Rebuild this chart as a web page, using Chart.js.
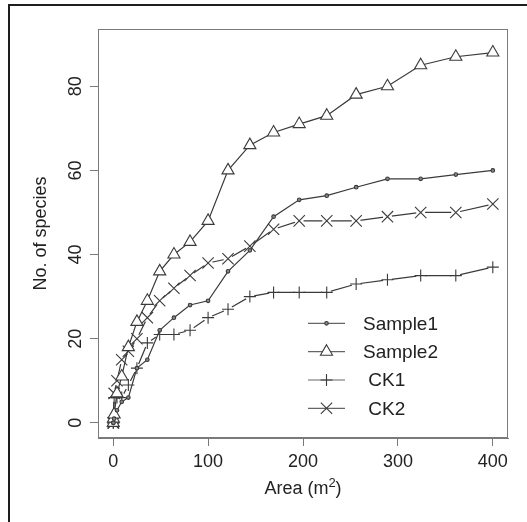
<!DOCTYPE html>
<html>
<head>
<script src="https://cdn.jsdelivr.net/npm/chart.js@4.4.0/dist/chart.umd.min.js"></script>
<title>Species-area curves</title>
<style>
  body { margin: 0; background: #fff; }
  #wrap { position: relative; width: 527px; height: 522px; }
</style>
</head>
<body>
<div id="wrap"><canvas id="myChart" width="527" height="522"></canvas></div>
<script>
var area    = [0.0625, 0.25, 1, 4, 9, 16, 25, 36, 49, 64, 81, 100, 121, 144, 169, 196, 225, 256, 289, 324, 361, 400];
var sample1 = [0, 0, 1, 3, 5, 6, 13, 15, 22, 25, 28, 29, 36, 41, 49, 53, 54, 56, 58, 58, 59, 60];
var sample2 = [0, 1, 2, 7, 11, 18, 24, 29, 36, 40, 43, 48, 60, 66, 69, 71, 73, 78, 80, 85, 87, 88];
var ck1     = [0, 0, 6, 6, 6, 9, 13, 19, 21, 21, 22, 25, 27, 30, 31, 31, 31, 33, 34, 35, 35, 37];
var ck2     = [0, 0, 7, 10, 15, 17, 20, 25, 29, 32, 35, 38, 39, 42, 46, 48, 48, 48, 49, 50, 50, 52];
var xTicks = [0, 100, 200, 300, 400];
var yTicks = [0, 20, 40, 60, 80];
var legendNames = ['Sample1', 'Sample2', ' CK1', ' CK2'];

var ink = '#3a3a3a';
var axisCol = '#7a7a7a';
var txt = '#222';
var font = '"Liberation Sans", Arial, sans-serif';

function pts(arr) {
    return area.map(function(a, i) { return {x: a, y: arr[i]}; });
}

// marker look for each series (same order as legendNames)
var marks = [
    {data: sample1, style: 'circle',   r: 1.8, gap: 0,   fill: '#888'},
    {data: sample2, style: 'triangle', r: 7,   gap: 0,   fill: '#fff'},
    {data: ck1,     style: 'cross',    r: 6,   gap: 4.5, fill: '#fff'},
    {data: ck2,     style: 'crossRot', r: 8,   gap: 4.5, fill: '#fff'}
];

var datasets = [];
marks.forEach(function(m) {
    // line with white "holes" round the points, like R type="b"
    datasets.push({
        data: pts(m.data),
        showLine: true,
        borderColor: ink,
        borderWidth: 1.2,
        pointRadius: m.gap,
        pointStyle: 'circle',
        pointBackgroundColor: '#fff',
        pointBorderWidth: 0,
        tension: 0,
        order: 1
    });
    // symbols on top
    datasets.push({
        data: pts(m.data),
        showLine: false,
        pointStyle: m.style,
        pointRadius: m.r,
        pointBackgroundColor: m.fill,
        pointBorderColor: ink,
        pointBorderWidth: 1.1,
        order: 0
    });
});

function drawSymbol(ctx, style, r, x, y) {
    ctx.beginPath();
    if (style == 'circle') {
        ctx.arc(x, y, r, 0, Math.PI * 2);
    } else if (style == 'triangle') {
        for (var k = 0; k < 3; k++) {
            var ang = k * 2 * Math.PI / 3;
            var px = x + Math.sin(ang) * r, py = y - Math.cos(ang) * r;
            if (k == 0) ctx.moveTo(px, py); else ctx.lineTo(px, py);
        }
        ctx.closePath();
    } else if (style == 'cross') {
        ctx.moveTo(x - r, y); ctx.lineTo(x + r, y);
        ctx.moveTo(x, y - r); ctx.lineTo(x, y + r);
    } else {
        var d = r * Math.SQRT1_2;
        ctx.moveTo(x - d, y - d); ctx.lineTo(x + d, y + d);
        ctx.moveTo(x - d, y + d); ctx.lineTo(x + d, y - d);
    }
    ctx.fill();
    ctx.stroke();
}

var decor = {
    id: 'decor',
    afterDraw: function(chart) {
        var ctx = chart.ctx, a = chart.chartArea;
        var sx = chart.scales.x, sy = chart.scales.y;
        ctx.save();

        // page frame (top and left only)
        ctx.fillStyle = '#1e1e1e';
        ctx.fillRect(8, 4, 519, 2);
        ctx.fillRect(8, 4, 2, 518);

        // plot box
        ctx.strokeStyle = axisCol;
        ctx.lineWidth = 1;
        ctx.strokeRect(a.left + 0.5, a.top + 0.5, a.right - a.left - 1, a.bottom - a.top - 1);

        // tick labels
        ctx.fillStyle = txt;
        ctx.font = '18px ' + font;
        ctx.textAlign = 'center';
        ctx.textBaseline = 'alphabetic';
        xTicks.forEach(function(v) {
            ctx.fillText(String(v), sx.getPixelForValue(v), 467);
        });
        yTicks.forEach(function(v) {
            ctx.save();
            ctx.translate(81, sy.getPixelForValue(v));
            ctx.rotate(-Math.PI / 2);
            ctx.fillText(String(v), 0, 0);
            ctx.restore();
        });

        // axis titles
        ctx.save();
        ctx.translate(46, (a.top + a.bottom) / 2);
        ctx.rotate(-Math.PI / 2);
        ctx.fillText('No. of species', 0, 0);
        ctx.restore();

        var t1 = 'Area (m', t2 = '2', t3 = ')';
        ctx.font = '18px ' + font;
        var w1 = ctx.measureText(t1).width, w3 = ctx.measureText(t3).width;
        ctx.font = '13px ' + font;
        var w2 = ctx.measureText(t2).width;
        var x0 = (a.left + a.right) / 2 - (w1 + w2 + w3) / 2;
        ctx.textAlign = 'left';
        ctx.font = '18px ' + font;
        ctx.fillText(t1, x0, 494);
        ctx.font = '13px ' + font;
        ctx.fillText(t2, x0 + w1, 487);
        ctx.font = '18px ' + font;
        ctx.fillText(t3, x0 + w1 + w2, 494);

        // legend, no box
        var rowY = [323.3, 351.7, 380, 408.3];
        ctx.font = '19px ' + font;
        ctx.textBaseline = 'middle';
        legendNames.forEach(function(name, i) {
            var y = rowY[i];
            ctx.strokeStyle = '#666';
            ctx.lineWidth = 1.2;
            ctx.beginPath();
            ctx.moveTo(308, y); ctx.lineTo(345, y);
            ctx.stroke();
            ctx.strokeStyle = ink;
            ctx.lineWidth = 1.1;
            ctx.fillStyle = marks[i].fill;
            drawSymbol(ctx, marks[i].style, marks[i].r, 326.5, y);
            ctx.fillStyle = txt;
            ctx.fillText(name, 363, y + 1);
        });
        ctx.restore();
    }
};

var ctx = document.getElementById('myChart').getContext('2d');
var myChart = new Chart(ctx, {
    type: 'scatter',
    data: {datasets: datasets},
    plugins: [decor],
    options: {
        responsive: false,
        animation: false,
        layout: {padding: {top: 29, right: 19, left: 0, bottom: 0}},
        plugins: {
            legend: {display: false},
            tooltip: {enabled: false}
        },
        scales: {
            x: {
                type: 'linear',
                min: -16,
                max: 416,
                afterBuildTicks: function(s) { s.ticks = xTicks.map(function(v) { return {value: v}; }); },
                afterFit: function(s) { s.height = 84; },
                ticks: {display: false},
                grid: {drawOnChartArea: false, drawTicks: true, tickLength: 8, color: axisCol, lineWidth: 1},
                border: {display: true, color: axisCol}
            },
            y: {
                type: 'linear',
                min: -3.6,
                max: 93.6,
                afterBuildTicks: function(s) { s.ticks = yTicks.map(function(v) { return {value: v}; }); },
                afterFit: function(s) { s.width = 98; },
                ticks: {display: false},
                grid: {drawOnChartArea: false, drawTicks: true, tickLength: 8, color: axisCol, lineWidth: 1},
                border: {display: true, color: axisCol}
            }
        }
    }
});
</script>
</body>
</html>
